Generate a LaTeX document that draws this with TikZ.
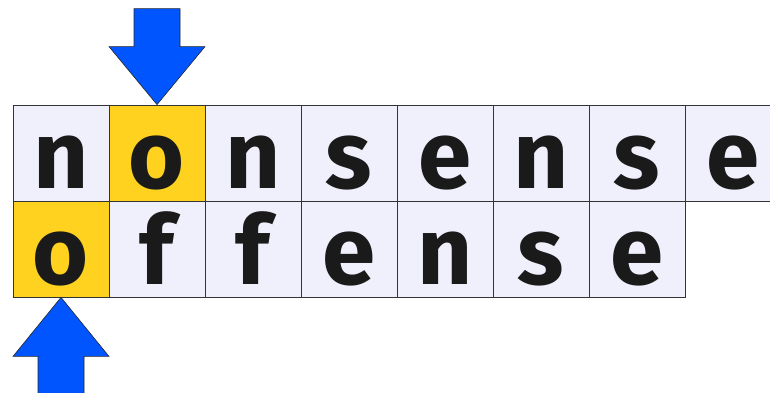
\documentclass[tikz,border=0pt]{standalone}
\usepackage{fontspec}
\setmainfont{Fira Sans}
\usetikzlibrary{calc}
\definecolor{cellbg}{HTML}{F0F0FC}
\definecolor{hitbg}{HTML}{FFD21F}
\definecolor{arrowblue}{HTML}{0055FF}
\definecolor{letter}{HTML}{1A1A1A}
\tikzset{CELL/.style={rectangle, draw=black!80, line width=0.8pt, fill=cellbg, minimum width=96pt, minimum height=96pt, inner sep=0pt, text height=70pt, text depth=0pt, text=letter, font=\fontsize{96}{96}\selectfont\bfseries}}
\tikzset{HIT/.style={CELL, fill=hitbg}}
\tikzset{BLOCKARROW/.style={draw=black!85, line width=0.6pt, fill=arrowblue, line join=miter}}

\begin{document}
\begin{tikzpicture}[x=1pt, y=-1pt]
    \clip (0,0) rectangle (770,393);

    \foreach \ch/\st [count=\i from 0] in {n/CELL, o/HIT, n/CELL, s/CELL, e/CELL, n/CELL, s/CELL, e/CELL}
        \node[\st] (nonsense_\i) at (61+96*\i, 153) {\ch};
    \foreach \ch/\st [count=\i from 0] in {o/HIT, f/CELL, f/CELL, e/CELL, n/CELL, s/CELL, e/CELL}
        \node[\st] (offense_\i) at (61+96*\i, 249) {\ch};

    \draw[BLOCKARROW] (nonsense_1.north) -- ++(-48,-58) -- ++(25,0) -- ++(0,-38)
        -- ++(46,0) -- ++(0,38) -- ++(25,0) -- cycle;
    \draw[BLOCKARROW] (offense_0.south) -- ++(-48,59) -- ++(25,0) -- ++(0,40)
        -- ++(46,0) -- ++(0,-40) -- ++(25,0) -- cycle;

\end{tikzpicture}
\end{document}
